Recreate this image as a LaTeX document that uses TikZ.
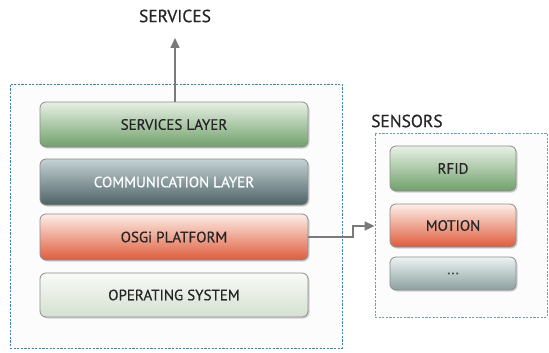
\documentclass[tikz,border=0pt]{standalone}
\usepackage{fontspec}
\setmainfont{PT Sans}
\newfontfamily\labfont{PT Sans}[FakeBold=0.5]
\usetikzlibrary{shadows,arrows.meta}
\definecolor{dashblue}{HTML}{3E86A8}
\definecolor{dashblue2}{HTML}{6A9CB6}
\definecolor{arr}{HTML}{7A7A7A}
\tikzset{
  layer/.style={draw=black!45, line width=0.8pt, rounded corners=6pt, minimum height=#1, inner sep=0pt,
    drop shadow={shadow xshift=1.5pt, shadow yshift=-1.5pt, opacity=0.35}, font=\labfont\fontsize{15}{16}\selectfont},
  greenbox/.style={top color={rgb,255:red,232;green,240;blue,230}, bottom color={rgb,255:red,112;green,160;blue,106}, text=black!85},
  commbox/.style={top color={rgb,255:red,196;green,210;blue,212}, bottom color={rgb,255:red,78;green,98;blue,102}, text=white},
  redbox/.style={top color={rgb,255:red,252;green,238;blue,232}, bottom color={rgb,255:red,222;green,92;blue,60}, text=black!85},
  osbox/.style={top color={rgb,255:red,248;green,250;blue,246}, bottom color={rgb,255:red,212;green,224;blue,208}, text=black!85},
  greybox/.style={top color={rgb,255:red,236;green,242;blue,242}, bottom color={rgb,255:red,140;green,160;blue,160}, text=black!70},
  frame/.style={draw=#1, dash pattern=on 2.2pt off 1.4pt, line width=0.8pt},
  conn/.style={draw=arr, line width=1.6pt, -{Triangle[length=10pt,width=9pt]}},
  title/.style={font=\labfont\fontsize{17.5}{18}\selectfont, text=black!85, inner sep=0pt}
}
\begin{document}
\begin{tikzpicture}[x=1pt,y=-1pt]
\useasboundingbox (0,0) rectangle (549,353);
% frames
\node[frame=dashblue, minimum width=332pt, minimum height=264pt, fill=black!1, inner sep=0pt] (outer) at (176,216) {};
\node[frame=dashblue2, minimum width=172pt, minimum height=184pt, fill=black!1, inner sep=0pt] (sensbox) at (461,225) {};
% layers
\node[layer=45pt, minimum width=268pt, greenbox] (sl) at (174,124.5) {SERVICES LAYER};
\node[layer=46pt, minimum width=268pt, commbox] (cl) at (174,182) {COMMUNICATION LAYER};
\node[layer=46pt, minimum width=268pt, redbox] (osgi) at (174,237) {OSGi PLATFORM};
\node[layer=44pt, minimum width=268pt, osbox] (os) at (174,295) {OPERATING SYSTEM};
% sensors
\node[layer=45pt, minimum width=126pt, greenbox] (rfid) at (453,168.5) {RFID};
\node[layer=43pt, minimum width=126pt, redbox] (motion) at (453,225.5) {MOTION};
\node[layer=33pt, minimum width=126pt, greybox] (dots) at (453,273.5) {...};
% titles
\node[title] (services) at (175,16) {SERVICES};
\node[title, anchor=west] (sensors) at (371,121) {SENSORS};
% connectors
\coordinate (st) at (175,38);
\draw[conn] (sl.north -| st) -- (st);
\coordinate (bend1) at (353,237);
\coordinate (bend2) at (353,226);
\draw[conn] (osgi.east) -- (bend1) -- (bend2) -- (sensbox.west |- bend2);
\end{tikzpicture}
\end{document}
